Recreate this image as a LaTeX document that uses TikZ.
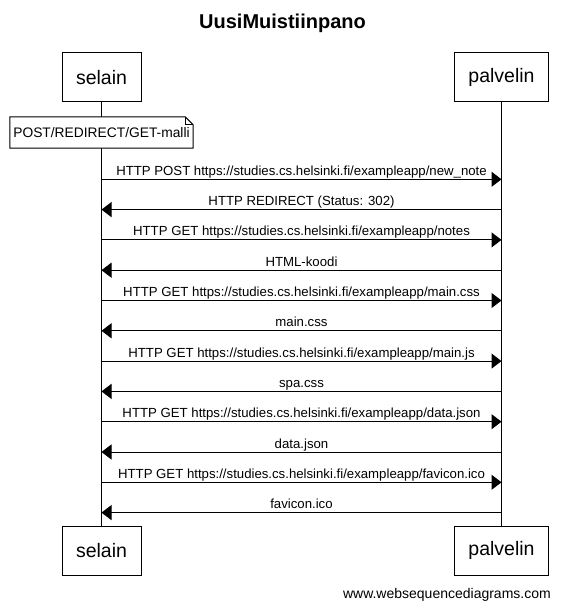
\documentclass[tikz,border=0pt]{standalone}
\usepackage{fontspec}
\setmainfont{Liberation Sans}
\usetikzlibrary{arrows.meta,calc}
\begin{document}
\begin{tikzpicture}[x=1pt,y=-1pt,
  pbox/.style={draw,line width=1pt,fill=white,inner sep=0pt,minimum height=49pt,font=\fontsize{19.5}{22}\selectfont},
  lifeline/.style={line width=1pt},
  msg/.style={line width=1pt,-{Triangle[length=10pt,width=15pt]}},
  lbl/.style={anchor=base,yshift=4pt,inner sep=0pt,font=\fontsize{13.2}{15}\selectfont},
  notetext/.style={inner sep=0pt,minimum width=183pt,minimum height=31pt,font=\fontsize{13.8}{16}\selectfont}
]
\useasboundingbox (0,0) rectangle (563,609);
% title
\node[anchor=base,inner sep=0pt,font=\bfseries\fontsize{20}{24}\selectfont] (title) at (282.5,28.3) {UusiMuistiinpano};
% participants
\node[pbox,minimum width=79pt] (s1) at (101.5,77.5) {selain};
\node[pbox,minimum width=94pt] (p1) at (501.5,77.5) {palvelin};
\node[pbox,minimum width=79pt] (s2) at (101.5,550.5) {selain};
\node[pbox,minimum width=94pt] (p2) at (501.5,550.5) {palvelin};
% lifelines
\draw[lifeline] (s1) -- (s2);
\draw[lifeline] (p1) -- (p2);
% note
\node[notetext] (note) at (101.5,132.5) {};
\draw[line width=1pt,fill=white] (note.south west) -- (note.north west) -- ($(note.north east)+(-8,0)$) -- ($(note.north east)+(0,8)$) -- (note.south east) -- cycle;
\draw[line width=0.6pt] ($(note.north east)+(-8,0)$) -- ($(note.north east)+(-8,8)$) -- ($(note.north east)+(0,8)$);
\node[inner sep=0pt,font=\fontsize{13.8}{16}\selectfont] (notelabel) at (note.center) {POST/REDIRECT/GET-malli};
% message anchor coordinates
\foreach \i in {0,...,11} {
  \coordinate (a\i) at (101.5,{179.3+30.3*\i});
  \coordinate (b\i) at (501.5,{179.3+30.3*\i});
}
\draw[msg] (a0) -- node[lbl] {HTTP POST https://studies.cs.helsinki.fi/exampleapp/new\_note} (b0);
\draw[msg] (b1) -- node[lbl] {HTTP REDIRECT (Status: 302)} (a1);
\draw[msg] (a2) -- node[lbl] {HTTP GET https://studies.cs.helsinki.fi/exampleapp/notes} (b2);
\draw[msg] (b3) -- node[lbl] {HTML-koodi} (a3);
\draw[msg] (a4) -- node[lbl] {HTTP GET https://studies.cs.helsinki.fi/exampleapp/main.css} (b4);
\draw[msg] (b5) -- node[lbl] {main.css} (a5);
\draw[msg] (a6) -- node[lbl] {HTTP GET https://studies.cs.helsinki.fi/exampleapp/main.js} (b6);
\draw[msg] (b7) -- node[lbl] {spa.css} (a7);
\draw[msg] (a8) -- node[lbl] {HTTP GET https://studies.cs.helsinki.fi/exampleapp/data.json} (b8);
\draw[msg] (b9) -- node[lbl] {data.json} (a9);
\draw[msg] (a10) -- node[lbl] {HTTP GET https://studies.cs.helsinki.fi/exampleapp/favicon.ico} (b10);
\draw[msg] (b11) -- node[lbl] {favicon.ico} (a11);
% watermark
\node[anchor=base east,inner sep=0pt,font=\fontsize{14}{16}\selectfont] (wm) at (551,598) {www.websequencediagrams.com};
\end{tikzpicture}
\end{document}
